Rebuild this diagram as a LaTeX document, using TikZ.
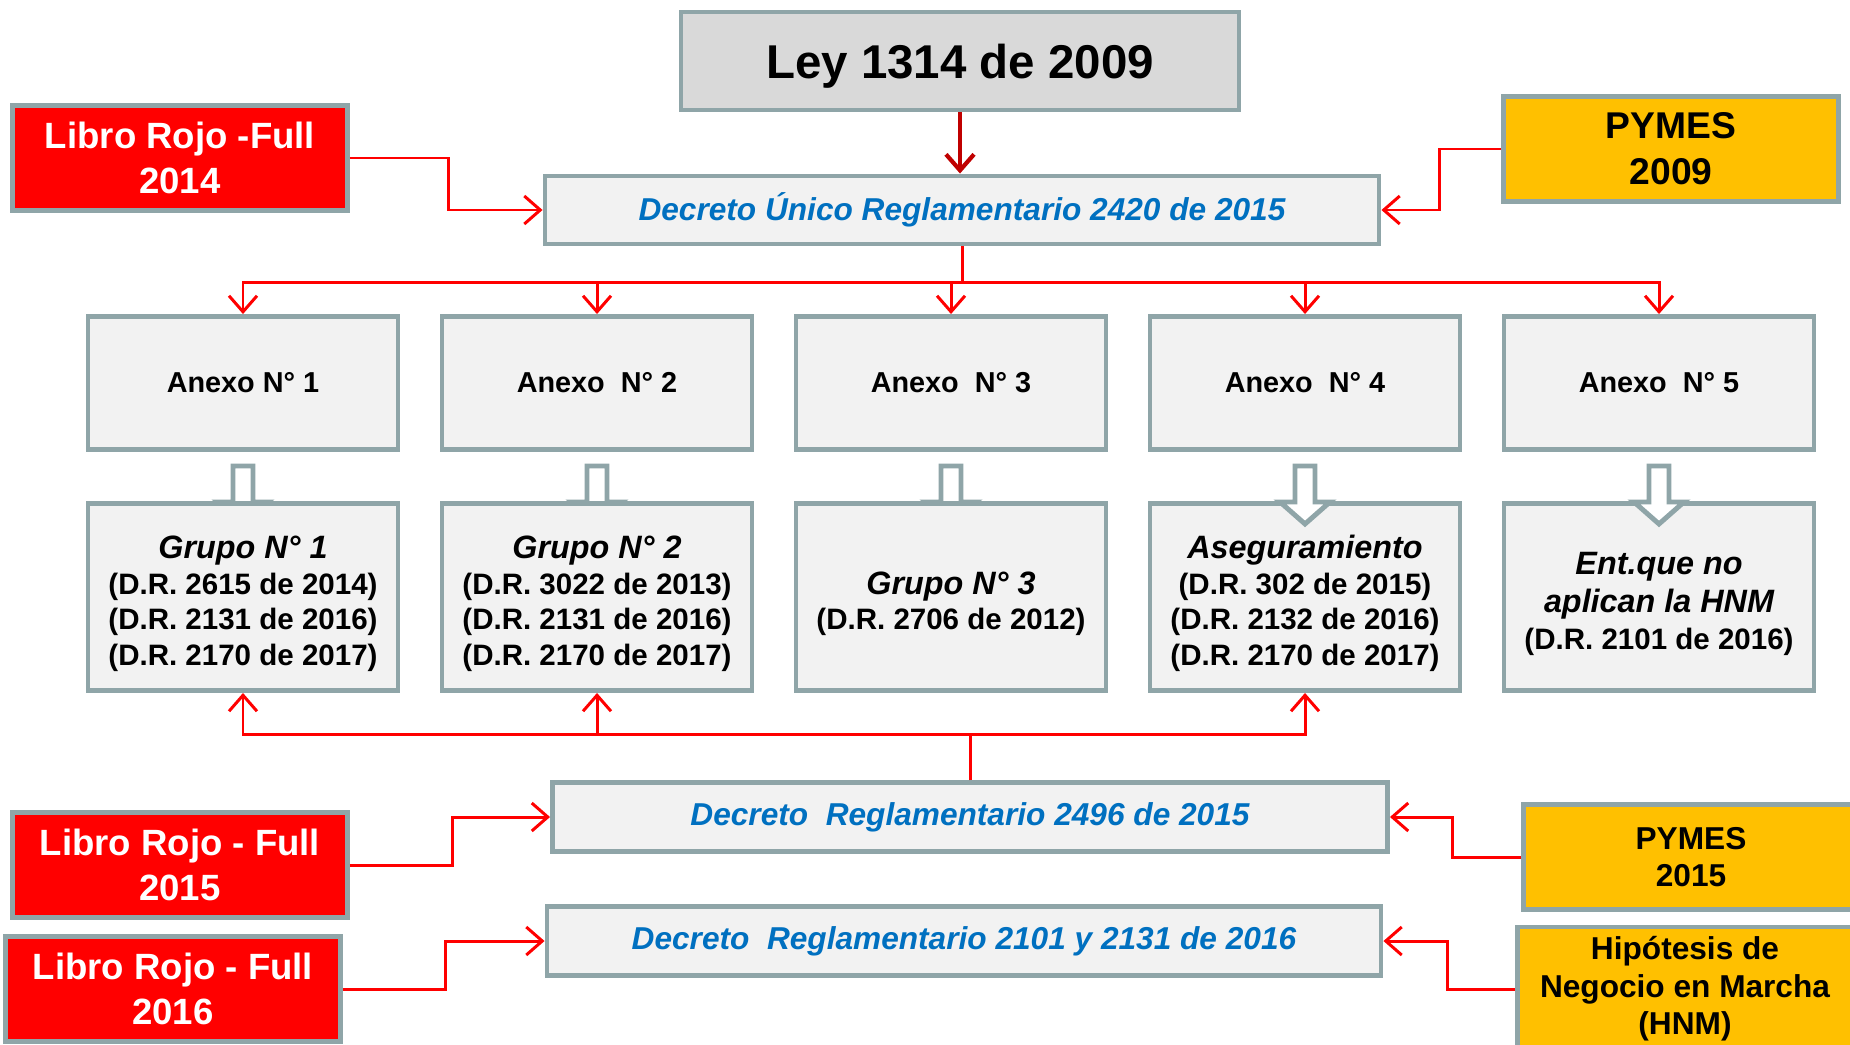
\documentclass[tikz,border=0pt]{standalone}
\usepackage{fontspec}
\setmainfont{Liberation Sans}
\usetikzlibrary{arrows.meta}
\definecolor{marco}{RGB}{143,165,168}
\definecolor{rojo}{RGB}{255,0,0}
\definecolor{amarillo}{RGB}{255,192,0}
\definecolor{claro}{RGB}{242,242,242}
\definecolor{azul}{RGB}{0,112,192}
\definecolor{gris}{RGB}{217,217,217}
\definecolor{vino}{RGB}{192,0,0}
\newcommand{\alto}{\rule{0pt}{10.3pt}}
\begin{document}
\begin{tikzpicture}[
base/.style ={rectangle, draw=marco, line width=1.4pt,
  align=center, inner sep=0pt
},
leybox/.style ={base, fill=gris, minimum width=5.58cm, minimum height=0.98cm,
  text depth=0pt, font=\bfseries\fontsize{13.5}{16}\selectfont
},
libro/.style ={base, fill=rojo, text=white, minimum width=3.35cm, minimum height=1.05cm,
  font=\bfseries\fontsize{10.4}{12.8}\selectfont
},
pymes/.style ={base, fill=amarillo, minimum width=3.35cm, minimum height=1.05cm,
  font=\bfseries\fontsize{9}{10.7}\selectfont
},
decreto/.style ={base, fill=claro, text=azul, minimum width=8.34cm, minimum height=0.68cm,
  font=\bfseries\itshape\fontsize{9}{11}\selectfont
},
anexo/.style ={base, fill=claro, minimum width=3.1cm, minimum height=1.33cm,
  font=\bfseries\fontsize{8.2}{10}\selectfont
},
grupo/.style ={base, fill=claro, minimum width=3.1cm, minimum height=1.87cm,
  font=\bfseries\fontsize{8.4}{10.1}\selectfont
},
flecha/.style ={draw=rojo, line width=0.85pt, -{Straight Barb[length=1.6mm,width=2.8mm]}},
hueco/.style ={draw=marco, fill=white, line width=1.4pt}
]
\useasboundingbox (0,0) rectangle (18.5,-10.45);
\node (ley) at (9.6,-0.61) [leybox] {Ley 1314 de 2009};
\node (rojo14) at (1.8,-1.58) [libro] {Libro Rojo -Full\\2014};
\node (pymes09) at (16.71,-1.49) [pymes, font=\bfseries\fontsize{10.6}{13}\selectfont] {PYMES\\2009};
\node (dur) at (9.62,-2.1) [decreto] {Decreto Único Reglamentario 2420 de 2015};
\node (anexo1) at (2.43,-3.83) [anexo] {Anexo N° 1};
\node (anexo2) at (5.97,-3.83) [anexo] {Anexo\ \ N° 2};
\node (anexo3) at (9.51,-3.83) [anexo] {Anexo\ \ N° 3};
\node (anexo4) at (13.05,-3.83) [anexo] {Anexo\ \ N° 4};
\node (anexo5) at (16.59,-3.83) [anexo] {Anexo\ \ N° 5};
\draw[hueco] (anexo1.south) ++(-0.1,-0.14) -- ++(0,-0.36) -- ++(-0.15,0) -- ++(0.25,-0.22) -- ++(0.25,0.22) -- ++(-0.15,0) -- ++(0,0.36) -- cycle;
\draw[hueco] (anexo2.south) ++(-0.1,-0.14) -- ++(0,-0.36) -- ++(-0.15,0) -- ++(0.25,-0.22) -- ++(0.25,0.22) -- ++(-0.15,0) -- ++(0,0.36) -- cycle;
\draw[hueco] (anexo3.south) ++(-0.1,-0.14) -- ++(0,-0.36) -- ++(-0.15,0) -- ++(0.25,-0.22) -- ++(0.25,0.22) -- ++(-0.15,0) -- ++(0,0.36) -- cycle;
\node (grupo1) at (2.43,-5.97) [grupo] {\alto\itshape\fontsize{9.2}{10.1}\selectfont Grupo N° 1\\\upshape\fontsize{8.4}{10.1}\selectfont (D.R. 2615 de 2014)\\(D.R. 2131 de 2016)\\(D.R. 2170 de 2017)};
\node (grupo2) at (5.97,-5.97) [grupo] {\alto\itshape\fontsize{9.2}{10.1}\selectfont Grupo N° 2\\\upshape\fontsize{8.4}{10.1}\selectfont (D.R. 3022 de 2013)\\(D.R. 2131 de 2016)\\(D.R. 2170 de 2017)};
\node (grupo3) at (9.51,-5.97) [grupo] {\alto\itshape\fontsize{9.2}{10.1}\selectfont Grupo N° 3\\\upshape\fontsize{8.4}{10.1}\selectfont (D.R. 2706 de 2012)};
\node (grupo4) at (13.05,-5.97) [grupo] {\alto\itshape\fontsize{9.2}{10.1}\selectfont Aseguramiento\\\upshape\fontsize{8.4}{10.1}\selectfont (D.R. 302 de 2015)\\(D.R. 2132 de 2016)\\(D.R. 2170 de 2017)};
\node (grupo5) at (16.59,-5.97) [grupo, font=\bfseries\itshape\fontsize{9.2}{10.7}\selectfont] {\alto Ent.que no\\aplican la HNM\\\upshape\fontsize{8.4}{10.7}\selectfont (D.R. 2101 de 2016)};
\draw[hueco] (anexo4.south) ++(-0.1,-0.14) -- ++(0,-0.36) -- ++(-0.15,0) -- ++(0.25,-0.22) -- ++(0.25,0.22) -- ++(-0.15,0) -- ++(0,0.36) -- cycle;
\draw[hueco] (anexo5.south) ++(-0.1,-0.14) -- ++(0,-0.36) -- ++(-0.15,0) -- ++(0.25,-0.22) -- ++(0.25,0.22) -- ++(-0.15,0) -- ++(0,0.36) -- cycle;
\node (dr2496) at (9.7,-8.17) [decreto, minimum width=8.35cm, minimum height=0.69cm] {Decreto\ \ Reglamentario 2496 de 2015};
\node (rojo15) at (1.8,-8.65) [libro] {Libro Rojo - Full\\2015};
\node (pymes15) at (16.91,-8.57) [pymes] {PYMES\\2015};
\node (dr2101) at (9.64,-9.41) [decreto, minimum height=0.69cm] {Decreto\ \ Reglamentario 2101 y 2131 de 2016};
\node (rojo16) at (1.73,-9.89) [libro] {Libro Rojo - Full\\2016};
\node (hnm) at (16.85,-9.89) [pymes, minimum height=1.24cm] {Hipótesis de\\Negocio en Marcha\\(HNM)};
\draw[flecha, draw=vino, line width=1.2pt] (ley.south) -- (ley.south |- dur.north);
\draw[flecha] (rojo14.east) -- ++(0.99,0) |- (dur.west);
\draw[flecha] (pymes09.west) -- ++(-0.62,0) |- (dur.east);
\draw[flecha] (dur.south) -- ++(0,-0.36) -| (anexo1.north);
\draw[flecha] (dur.south) -- ++(0,-0.36) -| (anexo2.north);
\draw[flecha] (dur.south) -- ++(0,-0.36) -| (anexo3.north);
\draw[flecha] (dur.south) -- ++(0,-0.36) -| (anexo4.north);
\draw[flecha] (dur.south) -- ++(0,-0.36) -| (anexo5.north);
\draw[flecha] (dr2496.north) -- ++(0,0.46) -| (grupo1.south);
\draw[flecha] (dr2496.north) -- ++(0,0.46) -| (grupo2.south);
\draw[flecha] (dr2496.north) -- ++(0,0.46) -| (grupo4.south);
\draw[flecha] (rojo15.east) -- ++(1.03,0) |- (dr2496.west);
\draw[flecha] (pymes15.west) -- ++(-0.69,0) |- (dr2496.east);
\draw[flecha] (rojo16.east) -- ++(1.03,0) |- (dr2101.west);
\draw[flecha] (hnm.west) -- ++(-0.68,0) |- (dr2101.east);
\end{tikzpicture}
\end{document}
